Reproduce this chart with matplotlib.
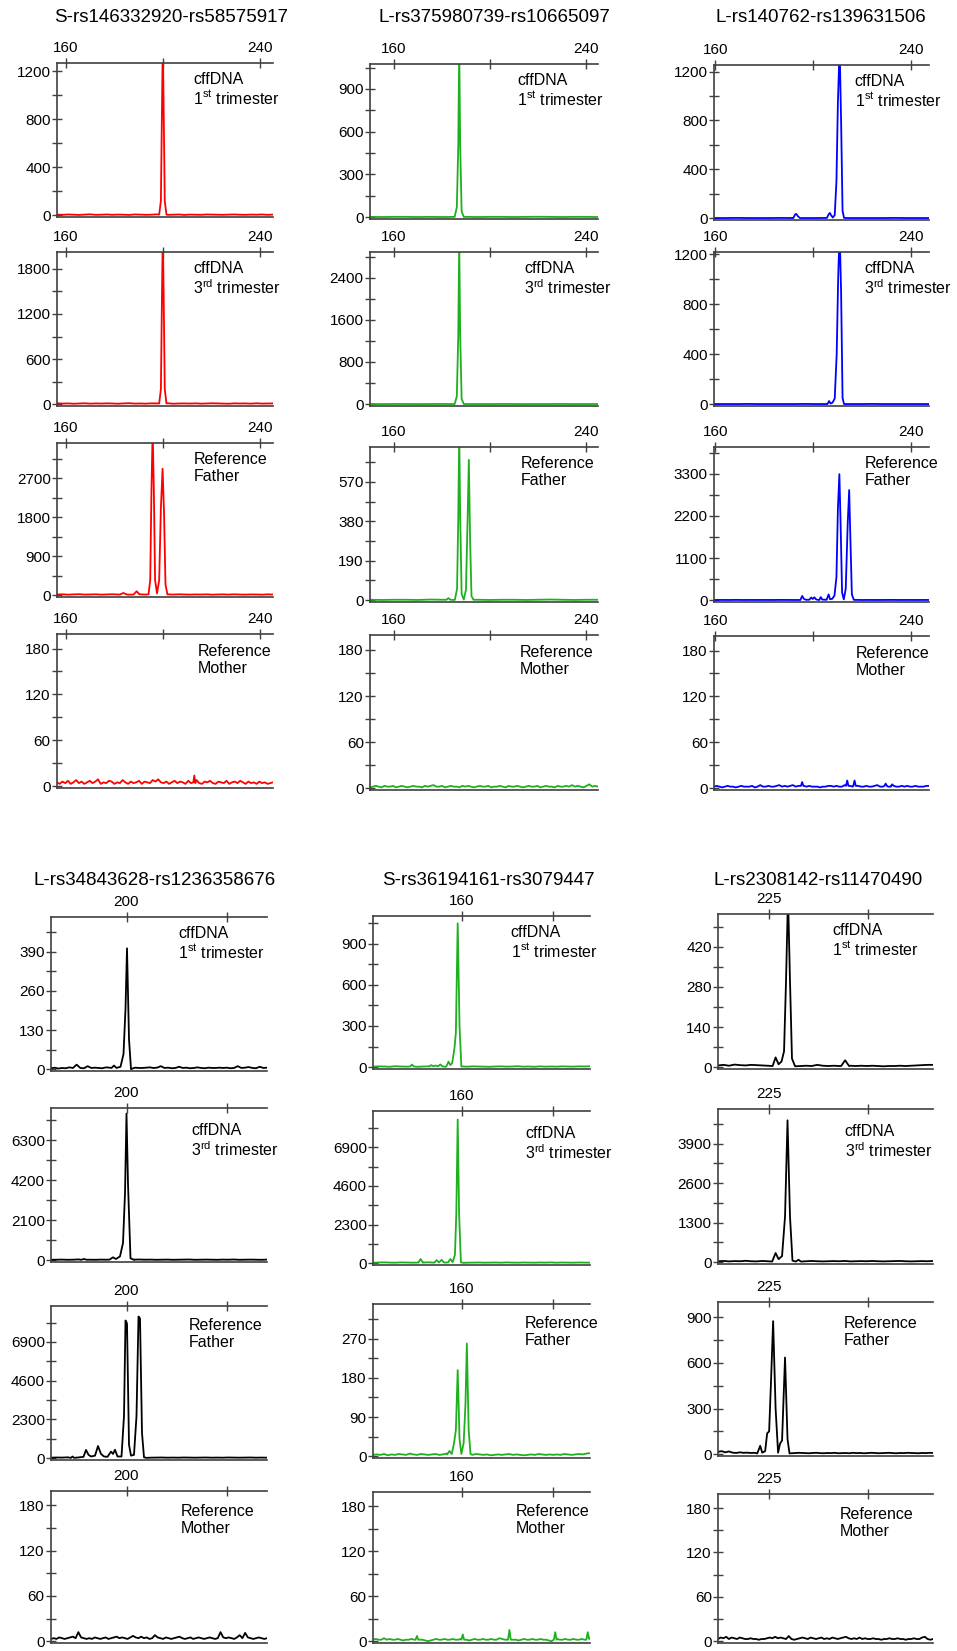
import numpy as np
import matplotlib.pyplot as plt
from matplotlib.ticker import MultipleLocator, FormatStrFormatter

plt.rcParams['font.family'] = ['Liberation Sans', 'DejaVu Sans']
plt.rcParams['mathtext.fontset'] = 'custom'
plt.rcParams['mathtext.rm'] = 'Liberation Sans'

# markers (one column each), sample rows
markers = ['S-rs146332920-rs58575917', 'L-rs375980739-rs10665097', 'L-rs140762-rs139631506',
           'L-rs34843628-rs1236358676', 'S-rs36194161-rs3079447', 'L-rs2308142-rs11470490']
colors = ['#ff0000', '#1fb01f', '#0000ff', '#000000', '#1fb01f', '#000000']
samples = ['cffDNA\n1$^{\\mathrm{st}}$ trimester', 'cffDNA\n3$^{\\mathrm{rd}}$ trimester',
           'Reference\nFather', 'Reference\nMother']

# size axis (bp)
xlims = [(156.3, 245.5), (150.0, 244.8), (159.5, 247.3),
         (184.9, 228.1), (140.6, 188.0), (214.7, 258.0)]
xticks = [[160, 200, 240]] * 3 + [[200, 220], [160, 180], [225, 245]]
xticklabels = [['160', '', '240']] * 3 + [['200', ''], ['160', ''], ['225', '']]

# signal axis: (top of axis, major step)
yscale = [
    [(1270, 400), (2025, 600), (3515, 900), (199, 60)],
    [(1075, 300), (2886, 800), (738, 190), (199.5, 60)],
    [(1254, 400), (1218, 400), (4000, 1100), (199, 60)],
    [(505, 130), (7983, 2100), (9031, 2300), (199, 60)],
    [(1101, 300), (9053, 2300), (350, 90), (199, 60)],
    [(534, 140), (5036, 1300), (1000, 300), (199, 60)],
]

# baseline readings (evenly spaced along each x range)
base_m1 = [
    [5, 3, 6, 4, 2, 5, 7, 3, 4, 6, 3, 5, 4, 2, 6, 5, 3, 4, 7, 5, 3, 4, 6, 2, 5, 4, 3, 6, 5, 4, 3, 5, 6, 4, 3, 5, 4, 6, 3, 5],
    [12, 8, 10, 6, 9, 12, 7, 10, 8, 11, 9, 6, 10, 13, 8, 9, 7, 11, 10, 8, 12, 6, 9, 10, 8, 11, 7, 9, 12, 10, 8, 6, 11, 9, 10, 7, 12, 8, 9, 10],
    [15, 20, 12, 18, 22, 14, 16, 20, 13, 17, 21, 15, 18, 12, 16, 20, 14, 19, 15, 12, 18, 14, 20, 16, 13, 17, 15, 19, 12, 16, 18, 14, 20, 15, 13, 17, 16, 12, 18, 15],
    [5, 3, 6, 4, 7, 3, 5, 8, 4, 6, 3, 5, 7, 4, 6, 9, 3, 5, 4, 7, 6, 3, 5, 4, 8, 5, 3, 6, 4, 5, 7, 3, 6, 5, 4, 8, 6, 9, 5, 4,
     6, 3, 5, 7, 4, 6, 5, 3, 7, 4, 5, 8, 4, 3, 6, 5, 7, 4, 3, 6, 5, 4, 7, 3, 5, 6, 4, 7, 5, 3, 6, 4, 5, 3, 6, 4, 5, 3, 4, 5],
]
base_m2 = [
    [2, 1, 2, 2, 1, 2, 1, 2, 2, 1, 2, 2, 1, 2, 3, 2, 1, 2, 2, 1],
    [3, 2, 4, 3, 2, 3, 4, 2, 3, 3, 2, 4, 3, 2, 3, 3, 4, 2, 3, 3],
    [2, 1, 2, 2, 1, 3, 2, 1, 2, 2, 1, 2, 2, 1, 2, 3, 2, 1, 2, 2],
    [1, 2, 3, 2, 1, 3, 2, 2, 3, 1, 2, 3, 2, 1, 2, 3, 2, 2, 1, 3, 2, 3, 4, 2, 2, 3, 1, 2, 3, 2, 2, 1, 3, 2, 3, 2, 1, 2, 3, 2,
     2, 3, 1, 2, 2, 3, 2, 1, 3, 2, 2, 3, 2, 1, 2, 3, 2, 2, 3, 1, 2, 3, 2, 2, 1, 3, 2, 2, 3, 2, 4, 2, 3, 2, 1, 3, 5, 2, 3, 2],
]
base_m3 = [
    [1, 1, 2, 1, 1, 1, 2, 1, 1, 1, 1, 2, 1, 1, 1, 1, 2, 1, 1, 1],
    [1, 1, 1, 2, 1, 1, 1, 1, 2, 1, 1, 1, 1, 1, 2, 1, 1, 1, 1, 1],
    [5, 6, 5, 7, 5, 6, 5, 6, 5, 7, 6, 5, 6, 5, 7, 5, 6, 5, 6, 7, 5, 6, 5, 6, 7, 5, 6, 5, 6, 5],
    [2, 3, 2, 1, 2, 3, 2, 2, 1, 2, 3, 2, 2, 2, 3, 1, 2, 4, 2, 2, 3, 2, 2, 3, 4, 2, 3, 2, 3, 4, 2, 3, 5, 3, 2, 3, 2, 2, 2, 1,
     2, 2, 3, 3, 2, 3, 2, 2, 4, 2, 3, 2, 2, 3, 2, 2, 3, 2, 2, 3, 4, 2, 2, 3, 2, 2, 3, 2, 2, 3, 2, 3, 2, 2, 3, 2, 2, 2, 3, 3],
]
base_m4 = [
    [3, 5, 2, 4, 3, 6, 4, 15, 4, 3, 10, 4, 5, 4, 3, 6, 5, 4, 7, 5, 4, 6, 12, 5, 4, 4, 5, 6, 4, 5, 10, 4, 5, 3, 4, 8, 4, 5, 3, 4,
     6, 4, 3, 5, 4, 4, 5, 4, 5, 3, 4, 10, 4, 5, 7, 4, 3, 8, 4, 5],
    [20, 25, 30, 20, 25, 40, 30, 25, 20, 30, 25, 35, 30, 25, 20, 30, 35, 25, 30, 20, 25, 30, 20, 25, 30, 35, 20, 25, 30, 25, 20, 30, 25, 35, 20, 25, 30, 25, 20, 30],
    [30, 40, 35, 50, 40, 45, 35, 40, 30, 45, 40, 35, 30, 40, 35, 30, 40, 35, 30, 35, 40, 30, 35, 30, 40, 35, 30, 35, 40, 30, 35, 30, 40, 35, 30, 35, 40, 30, 35, 30],
    [3, 4, 3, 5, 4, 3, 4, 5, 6, 4, 12, 5, 4, 3, 4, 3, 5, 4, 3, 4, 5, 3, 4, 5, 6, 4, 5, 4, 3, 5, 7, 5, 4, 6, 4, 5, 3, 4, 8, 5,
     4, 3, 5, 4, 3, 4, 5, 6, 4, 3, 4, 5, 3, 4, 5, 4, 3, 4, 5, 4, 3, 4, 12, 5, 4, 5, 4, 3, 5, 8, 4, 11, 5, 4, 3, 4, 5, 4, 3, 4],
]
base_m5 = [
    [4, 6, 5, 3, 7, 5, 4, 6, 3, 5, 6, 4, 5, 3, 6, 4, 5, 4, 6, 5, 4, 3, 5, 6, 4, 5, 7, 4, 5, 3, 6, 4, 5, 4, 6, 5, 4, 6, 5, 7],
    [30, 40, 50, 35, 30, 45, 40, 30, 35, 40, 50, 30, 40, 35, 30, 40, 45, 30, 35, 40, 30, 35, 40, 30, 45, 35, 30, 40, 35, 30, 40, 35, 45, 30, 40, 35, 30, 40, 35, 30],
    [3, 4, 3, 5, 2, 4, 3, 5, 4, 3, 6, 4, 3, 5, 4, 3, 4, 5, 3, 4, 6, 4, 3, 5, 4, 3, 4, 3, 5, 4, 3, 4, 2, 3, 4, 3, 4, 5, 3, 4,
     3, 2, 3, 4, 3, 5, 4, 3, 4, 3, 4, 3, 5, 4, 3, 4, 5, 4, 6, 7],
    [2, 3, 2, 2, 4, 2, 3, 2, 2, 3, 2, 1, 2, 2, 3, 2, 3, 2, 2, 1, 0, 1, 2, 3, 2, 2, 3, 2, 2, 3, 2, 2, 3, 2, 2, 1, 2, 3, 2, 2,
     3, 2, 2, 3, 2, 2, 4, 3, 2, 2, 3, 2, 2, 1, 2, 3, 2, 2, 3, 2, 2, 3, 2, 2, 1, 0, 2, 3, 2, 2, 3, 2, 2, 3, 2, 2, 3, 2, 2, 4],
]
base_m6 = [
    [6, 8, 5, 9, 7, 6, 8, 7, 6, 5, 4, 5, 5, 4, 3, 4, 5, 4, 8, 5, 4, 5, 4, 6, 5, 4, 5, 4, 5, 4, 3, 4, 4, 5, 4, 5, 6, 7, 8, 8],
    [30, 40, 25, 35, 30, 45, 30, 25, 40, 30, 35, 30, 40, 25, 30, 35, 30, 40, 30, 25, 30, 35, 30, 40, 25, 30, 35, 30, 40, 30, 25, 30, 35, 40, 30, 25, 30, 35, 30, 40],
    [15, 20, 12, 18, 10, 8, 12, 9, 10, 8, 9, 7, 10, 8, 9, 6, 8, 7, 9, 8, 6, 7, 9, 8, 7, 6, 8, 9, 7, 6, 8, 7, 9, 6, 7, 8, 6, 9, 7, 8,
     6, 7, 9, 8, 6, 7, 8, 9, 7, 6, 8, 7, 9, 8, 7, 6, 8, 7, 9, 8],
    [3, 5, 4, 6, 3, 5, 4, 3, 5, 4, 3, 3, 4, 3, 3, 2, 3, 3, 4, 5, 4, 6, 4, 5, 4, 3, 7, 3, 2, 3, 4, 5, 4, 3, 5, 4, 3, 4, 5, 3,
     4, 3, 5, 4, 3, 4, 5, 6, 4, 3, 4, 3, 5, 3, 4, 3, 3, 4, 3, 3, 2, 3, 3, 4, 3, 3, 4, 3, 3, 2, 3, 3, 4, 3, 3, 5, 6, 3, 2, 3],
]
bases = [base_m1, base_m2, base_m3, base_m4, base_m5, base_m6]

# peak readings: groups of (size, signal)
peaks_m1 = [
    [[(198.5, 5), (199.2, 120), (199.6, 800), (200.0, 1450), (200.4, 800), (200.8, 120), (201.5, 5)]],
    [[(198.5, 10), (199.2, 200), (199.6, 1300), (200.0, 2300), (200.4, 1300), (200.8, 200), (201.5, 10)]],
    [[(182.3, 15), (183.7, 50), (185.0, 18)], [(187.9, 15), (189.2, 90), (190.3, 20)],
     [(194.1, 20), (194.8, 350), (195.3, 2400), (195.8, 3800), (196.3, 2400), (196.8, 350), (197.6, 40),
      (198.5, 350), (199.2, 2000), (199.9, 2920), (200.5, 1900), (201.1, 250), (201.9, 15)]],
    [[(212.6, 5), (213.0, 14), (213.4, 4)]],
]
peaks_m2 = [
    [[(185.2, 2), (186.1, 70), (186.7, 500), (187.1, 1200), (187.5, 500), (188.1, 40), (189.0, 2)]],
    [[(185.2, 3), (186.1, 150), (186.7, 1300), (187.1, 3100), (187.5, 1300), (188.1, 100), (189.0, 3)]],
    [[(181.8, 2), (182.6, 10), (183.4, 2)],
     [(185.3, 2), (186.2, 55), (186.7, 400), (187.1, 800), (187.5, 400), (188.1, 30), (189.0, 3),
      (189.9, 50), (190.6, 400), (191.1, 676), (191.6, 300), (192.2, 20), (193.0, 2)]],
    [],
]
peaks_m3 = [
    [[(191.9, 1), (192.6, 30), (193.1, 35), (193.8, 15), (194.6, 1)],
     [(205.6, 2), (206.3, 30), (206.8, 43), (207.3, 25), (208.0, 5), (208.8, 25), (209.5, 300), (210.1, 950),
      (210.8, 1400), (211.4, 800), (212.0, 60), (212.6, 2)]],
    [[(205.8, 1), (206.5, 25), (207.1, 5), (207.9, 12), (208.8, 45), (209.6, 400), (210.2, 1000), (210.8, 1400),
      (211.4, 900), (212.0, 50), (212.6, 1)]],
    [[(194.8, 5), (195.5, 110), (196.2, 35), (197.0, 10), (198.4, 10), (199.2, 70), (199.8, 30), (200.5, 75),
      (201.1, 25), (201.7, 10), (202.5, 5), (203.1, 80), (203.7, 15), (205.5, 10), (206.3, 150), (206.9, 25),
      (207.8, 35), (208.7, 120), (209.5, 600), (210.1, 2400), (210.7, 3291), (211.2, 2000), (211.8, 200),
      (212.5, 20), (213.3, 300), (214.1, 2000), (214.7, 2875), (215.2, 1600), (215.8, 150), (216.6, 10)]],
    [[(195.0, 3), (195.5, 8), (196.0, 3)], [(213.4, 3), (213.9, 10), (214.4, 3)], [(216.4, 3), (216.9, 10), (217.4, 3)],
     [(229.1, 3), (229.6, 6), (230.1, 3)], [(231.8, 3), (232.3, 5), (232.8, 3)]],
]
peaks_m4 = [
    [[(197.0, 4), (197.5, 12), (198.0, 4), (198.8, 8), (199.4, 50), (199.8, 200), (200.1, 401), (200.5, 100),
      (200.9, 0), (201.5, 4)]],
    [[(190.9, 20), (191.5, 60), (192.1, 20)],
     [(196.6, 30), (197.3, 150), (197.9, 60), (198.7, 200), (199.3, 900), (199.7, 3500), (200.0, 7689),
      (200.3, 4000), (200.8, 100), (201.5, 15)]],
    [[(188.9, 20), (189.2, 100), (189.5, 20)],
     [(191.4, 80), (191.9, 490), (192.4, 200), (192.9, 100), (193.7, 150), (194.3, 720), (194.9, 250),
      (195.5, 100), (196.2, 80), (196.9, 390), (197.3, 250), (197.7, 500), (198.2, 100), (199.0, 100),
      (199.5, 2500), (199.8, 8170), (200.1, 8000), (200.5, 800), (200.9, 150), (201.5, 200), (202.0, 2500),
      (202.4, 8405), (202.7, 8300), (203.1, 1500), (203.5, 50), (204.0, 20)]],
    [],
]
peaks_m5 = [
    [[(148.7, 5), (149.1, 19), (149.5, 5)],
     [(152.9, 5), (153.3, 15), (153.8, 6), (154.2, 12), (154.8, 6), (155.3, 20), (155.8, 5)],
     [(156.6, 5), (157.1, 40), (157.5, 15), (157.9, 30), (158.4, 140), (158.7, 250), (159.1, 1048),
      (159.5, 300), (159.9, 5)]],
    [[(150.5, 30), (151.0, 250), (151.5, 30)],
     [(154.0, 40), (154.5, 180), (155.0, 40), (155.6, 200), (156.1, 40)],
     [(157.0, 50), (157.5, 250), (158.0, 60), (158.5, 500), (158.8, 3000), (159.1, 8544), (159.4, 3000),
      (159.8, 50), (160.3, 20)]],
    [[(156.8, 4), (157.3, 12), (157.8, 5), (158.3, 30), (158.7, 60), (159.1, 198), (159.5, 40), (159.9, 5),
      (160.4, 30), (160.8, 120), (161.1, 259), (161.5, 60), (161.9, 5)]],
    [[(149.9, 2), (150.2, 7), (150.5, 2)], [(159.9, 2), (160.2, 9), (160.5, 2)], [(170.1, 2), (170.4, 15), (170.7, 2)],
     [(180.1, 2), (180.4, 12), (180.7, 2)], [(187.2, 2), (187.5, 12), (187.8, 3)]],
]
peaks_m6 = [
    [[(225.7, 4), (226.3, 34), (226.9, 10), (227.5, 20), (228.0, 55), (228.4, 300), (228.8, 600), (229.2, 300),
      (229.6, 30), (230.2, 4)], [(239.5, 4), (240.3, 24), (241.1, 4)]],
    [[(225.6, 20), (226.3, 300), (226.9, 100), (227.6, 200), (228.2, 1500), (228.7, 4665), (229.2, 1500),
      (229.7, 50), (230.4, 20), (230.9, 80), (231.4, 20)]],
    [[(222.6, 5), (223.2, 55), (223.6, 10), (224.2, 20), (224.6, 137), (225.0, 150), (225.4, 500), (225.8, 874),
      (226.3, 300), (226.8, 10), (227.2, 70), (227.6, 90), (228.2, 635), (228.7, 100), (229.1, 5)]],
    [],
]
peaks = [peaks_m1, peaks_m2, peaks_m3, peaks_m4, peaks_m5, peaks_m6]

# layout in pixels
W, H = 957, 1651
col_x = [(57, 273), (370, 598), (714, 929), (51, 267), (373, 590), (718, 933)]
col_rows = [
    [(63, 217), (252, 406), (443, 597), (634, 788)],
    [(64, 219), (252, 406), (447, 602), (635, 790)],
    [(65, 220), (252, 406), (447, 602), (636, 790)],
    [(917, 1071), (1108, 1262), (1306, 1460), (1491, 1643)],
    [(916, 1069), (1111, 1265), (1304, 1458), (1492, 1643)],
    [(914, 1069), (1109, 1264), (1302, 1456), (1494, 1643)],
]
title_pos = [(171, 18), (494, 18), (821, 18), (155, 880), (488, 880), (818, 880)]
label_x = [[0.63, 0.63, 0.635, 0.65], [0.645, 0.675, 0.66, 0.655], [0.655, 0.70, 0.70, 0.66],
           [0.59, 0.65, 0.64, 0.60], [0.635, 0.70, 0.70, 0.66], [0.53, 0.59, 0.585, 0.565]]
label_drop = [[9, 9, 9, 10], [9, 9, 9, 10], [9, 9, 9, 10],
              [9, 15, 12, 13], [9, 15, 12, 12], [9, 15, 14, 13]]


def build_trace(xlim, base, groups):
    xb = np.linspace(xlim[0], xlim[1], len(base))
    pts = list(zip(xb, base))
    for g in groups:
        lo, hi = g[0][0], g[-1][0]
        pts = [p for p in pts if p[0] < lo or p[0] > hi]
        pts += g
    pts.sort()
    return [p[0] for p in pts], [p[1] for p in pts]


fig = plt.figure(figsize=(W / 100, H / 100), dpi=100)
for m in range(6):
    tx, ty = title_pos[m]
    fig.text(tx / W, 1 - ty / H, markers[m], ha='center', va='center', fontsize=13.5)
    l, r = col_x[m]
    for row in range(4):
        t, b = col_rows[m][row]
        ax = fig.add_axes([l / W, 1 - b / H, (r - l) / W, (b - t) / H])
        x, y = build_trace(xlims[m], bases[m][row], peaks[m][row])
        ax.plot(x, y, color=colors[m], lw=1.3)
        ymax, step = yscale[m][row]
        ax.set_xlim(*xlims[m])
        ax.set_ylim(-0.012 * ymax, ymax)
        ax.set_xticks(xticks[m])
        ax.set_xticklabels(xticklabels[m])
        ax.yaxis.set_major_locator(MultipleLocator(step))
        ax.yaxis.set_minor_locator(MultipleLocator(step / 2))
        ax.yaxis.set_major_formatter(FormatStrFormatter('%d'))
        ax.xaxis.set_ticks_position('top')
        ax.tick_params(axis='x', which='both', top=True, bottom=False, labeltop=True, labelbottom=False,
                       direction='inout', length=7, width=1, color='#404040', labelsize=11, pad=2)
        ax.tick_params(axis='y', which='both', left=True, right=False, direction='inout', length=7,
                       width=1, color='#404040', labelsize=11, pad=1)
        ax.spines['right'].set_visible(False)
        for s in ['top', 'left', 'bottom']:
            ax.spines[s].set_color('#404040')
            ax.spines[s].set_linewidth(1.2)
        ax.text(label_x[m][row], 1 - label_drop[m][row] / (b - t), samples[row], transform=ax.transAxes,
                ha='left', va='top', fontsize=11.5, linespacing=1.15)

fig.savefig('out.png', dpi=100)
